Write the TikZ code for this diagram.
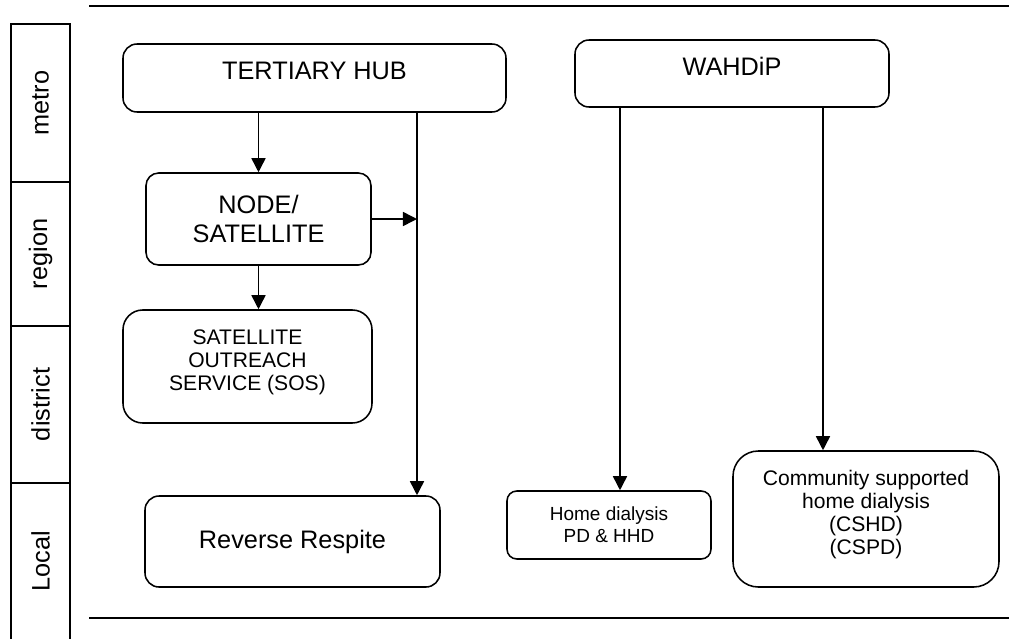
\documentclass[tikz,border=0pt]{standalone}
\usepackage{fontspec}
\setmainfont{Liberation Sans}
\usepackage{tikz}
\usetikzlibrary{positioning,arrows.meta}

\newcommand{\px}{0.025cm}

\begin{document}
\begin{tikzpicture}[
    x=0.025cm, y=-0.025cm,
    box/.style={draw,line width=1.1pt,rounded corners=10pt,align=center,inner sep=0pt},
    big/.style={font=\fontsize{18}{20}\selectfont},
    small/.style={font=\fontsize{15}{16.4}\selectfont},
    arr/.style={-{Triangle[length=10pt,width=10pt]},line width=1.1pt},
    band/.style={line width=1.5pt},
    rule/.style={line width=0.8pt}
  ]
    \useasboundingbox (0,0) rectangle (1009,639);

    % Level band on the left
    \draw[band] (11,639) |- (70,24) -- (70,639);
    \draw[band] (11,182) -- (70,182);
    \draw[band] (11,326) -- (70,326);
    \draw[band] (11,483) -- (70,483);
    \node[big, rotate=90] (metro) at (40.5,103) {metro};
    \node[big, rotate=90] (region) at (40.5,254) {region};
    \node[big, rotate=90] (district) at (40.5,404.5) {district};
    \node[big, rotate=90] (local) at (40.5,561) {Local};

    % Top and bottom rules
    \draw[rule] (89,6) -- (1009,6);
    \draw[rule] (89,618) -- (1009,618);

    % Hospital pathway
    \node[box, big, minimum width=383*\px, minimum height=68*\px] (hub) at (314.5,78) {TERTIARY HUB\\[-10pt]};
    \node[box, big, rounded corners=9pt, minimum width=225*\px, minimum height=92*\px] (sat) at (258.5,219) {NODE/\\SATELLITE};
    \node[box, small, rounded corners=14pt, minimum width=249*\px, minimum height=113*\px] (sos) at (247.5,366.5) {SATELLITE\\OUTREACH\\SERVICE (SOS)\\[-7pt]};
    \node[box, big, minimum width=295*\px, minimum height=91*\px] (respite) at (292.5,541.5) {Reverse Respite};

    % Home dialysis pathway
    \node[box, big, minimum width=314*\px, minimum height=67*\px] (wahdip) at (732,73.5) {WAHDiP\\[-10pt]};
    \node[box, font=\fontsize{13.5}{15.6}\selectfont, rounded corners=7pt, minimum width=204*\px, minimum height=68*\px] (home) at (609,525) {Home dialysis\\PD \& HHD};
    \node[box, small, rounded corners=18pt, minimum width=266*\px, minimum height=136*\px] (csd) at (866,519) {Community supported\\home dialysis\\(CSHD)\\(CSPD)\\[-7pt]};

    % Vertical trunks
    \coordinate (trunk) at (417,300);
    \coordinate (wleft) at (620,300);
    \coordinate (wright) at (823,300);

    % Arrows
    \draw[arr] (sat.north |- hub.south) -- (sat.north);
    \draw[arr] (sat.south) -- (sat.south |- sos.north);
    \draw[arr] (hub.south -| trunk) -- (respite.north -| trunk);
    \draw[arr] (sat.east) -- (sat.east -| trunk);
    \draw[arr] (wahdip.south -| wleft) -- (home.north -| wleft);
    \draw[arr] (wahdip.south -| wright) -- (csd.north -| wright);
  \end{tikzpicture}
\end{document}
